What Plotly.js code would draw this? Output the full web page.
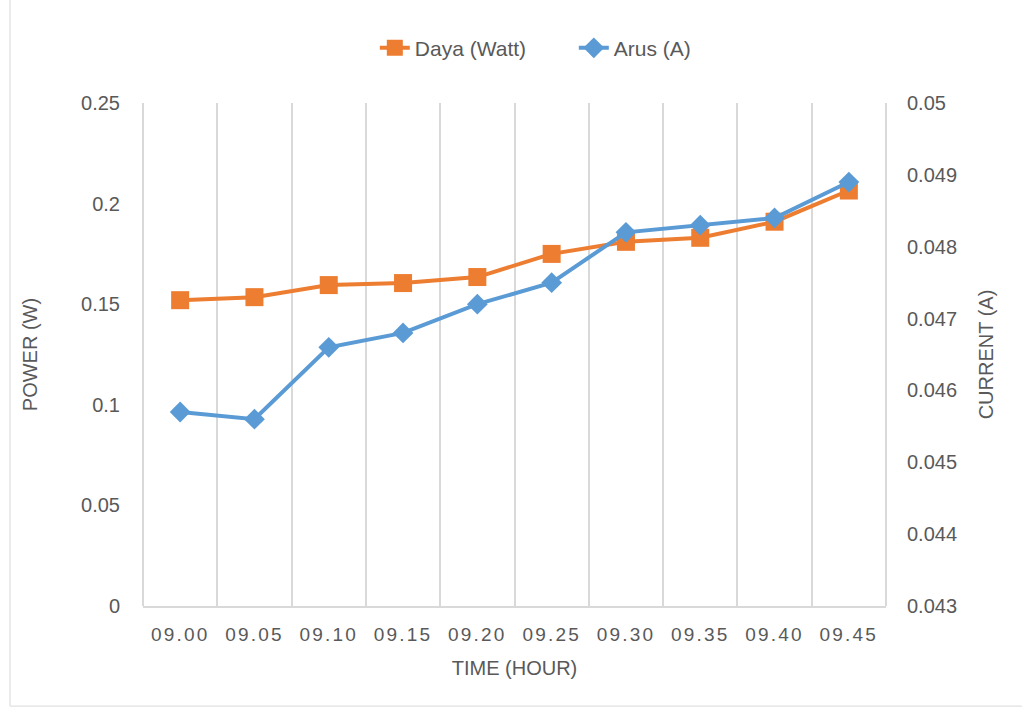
<!DOCTYPE html>
<html>
<head>
<meta charset="utf-8">
<script src="https://cdn.plot.ly/plotly-3.0.1.min.js"></script>
<style>html,body{margin:0;padding:0;background:#fff;}#chart{width:1022px;height:710px;}
.xtick text{letter-spacing:2.2px;}</style>
</head>
<body>
<div id="chart"></div>
<script>
var categories = ["09.00","09.05","09.10","09.15","09.20","09.25","09.30","09.35","09.40","09.45"];
var dayaWatt = [0.152, 0.1535, 0.1595, 0.1605, 0.1635, 0.175, 0.181, 0.183, 0.191, 0.2065];
var arusA = [0.0457, 0.0456, 0.0466, 0.0468, 0.0472, 0.0475, 0.0482, 0.0483, 0.0484, 0.0489];
var leftTicks = [0, 0.05, 0.1, 0.15, 0.2, 0.25];
var leftTickText = ["0", "0.05", "0.1", "0.15", "0.2", "0.25"];
var rightTicks = [0.043, 0.044, 0.045, 0.046, 0.047, 0.048, 0.049, 0.05];
var rightTickText = ["0.043", "0.044", "0.045", "0.046", "0.047", "0.048", "0.049", "0.05"];

var FONT = "Liberation Sans, Arial, sans-serif";
var TXT = "#595959";
var traces = [
  {
    x: categories, y: dayaWatt, name: "Daya (Watt)", type: "scatter", mode: "lines+markers",
    line: {color: "#ED7D31", width: 4},
    marker: {symbol: "square", size: 18, color: "#ED7D31"},
    yaxis: "y"
  },
  {
    x: categories, y: arusA, name: "Arus (A)", type: "scatter", mode: "lines+markers",
    line: {color: "#5B9BD5", width: 4},
    marker: {symbol: "diamond", size: 16, color: "#5B9BD5"},
    yaxis: "y2"
  }
];

var layout = {
  width: 1022, height: 710,
  margin: {l: 143, r: 136, t: 103, b: 104},
  paper_bgcolor: "#fff", plot_bgcolor: "#fff",
  font: {family: FONT, color: TXT, size: 20},
  showlegend: true,
  legend: {orientation: "h", x: 0.312, xanchor: "left", y: 1.109, yanchor: "middle",
           font: {size: 21, color: TXT}, entrywidth: 154, entrywidthmode: "pixels"},
  xaxis: {
    type: "category", range: [-0.5, 9.5], tickson: "boundaries",
    showgrid: true, gridcolor: "#D9D9D9", gridwidth: 2,
    showline: true, linecolor: "#D9D9D9", linewidth: 2,
    ticks: "", tickfont: {size: 19, color: TXT},
    ticklabelstandoff: 10,
    title: {text: "TIME (HOUR)", font: {size: 20, color: TXT}, standoff: 17},
    zeroline: false
  },
  yaxis: {
    range: [0, 0.25], tickvals: leftTicks, ticktext: leftTickText,
    showgrid: false, zeroline: false, showline: false, ticks: "",
    ticklabelstandoff: 22,
    title: {text: "POWER (W)", font: {size: 20, color: TXT}, standoff: 38},
    tickfont: {size: 20, color: TXT}
  },
  yaxis2: {
    overlaying: "y", side: "right",
    range: [0.043, 0.05], tickvals: rightTicks, ticktext: rightTickText,
    showgrid: false, zeroline: false, showline: false, ticks: "",
    ticklabelstandoff: 20,
    title: {text: "CURRENT (A)", font: {size: 20, color: TXT}, standoff: 22},
    tickfont: {size: 20, color: TXT}
  },
  shapes: [
    {type: "rect", xref: "paper", yref: "paper", x0: -0.179, x1: 1.185, y0: -0.199, y1: 1.21,
     line: {color: "#D9D9D9", width: 1}, fillcolor: "rgba(0,0,0,0)", layer: "below"},
    {type: "line", xref: "paper", yref: "paper", x0: 0, x1: 0, y0: 0, y1: 1,
     line: {color: "#D9D9D9", width: 2}, layer: "below"},
    {type: "line", xref: "paper", yref: "paper", x0: 1, x1: 1, y0: 0, y1: 1,
     line: {color: "#D9D9D9", width: 2}, layer: "below"}
  ]
};

Plotly.newPlot("chart", traces, layout, {displayModeBar: false, staticPlot: true});
</script>
</body>
</html>
